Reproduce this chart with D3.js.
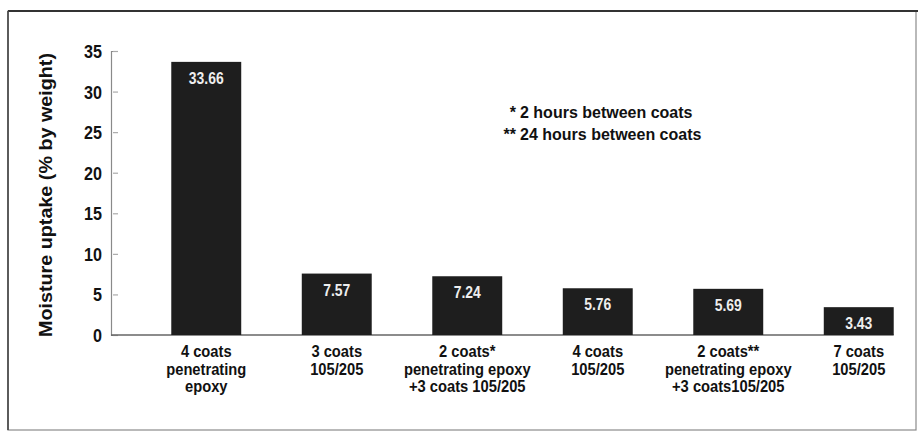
<!DOCTYPE html>
<html>
<head>
<meta charset="utf-8">
<script src="https://cdn.jsdelivr.net/npm/d3@7"></script>
<style>
  html, body { margin: 0; padding: 0; background: #fff; }
  svg { display: block; }
  text { font-family: "Liberation Sans", Arial, sans-serif; font-weight: bold; }
</style>
</head>
<body>
<svg id="chart" width="918" height="433"></svg>
<script>
// Moisture uptake of different coating systems
const categories = [
  ["4 coats", "penetrating", "epoxy"],
  ["3 coats", "105/205"],
  ["2 coats*", "penetrating epoxy", "+3 coats 105/205"],
  ["4 coats", "105/205"],
  ["2 coats**", "penetrating epoxy", "+3 coats105/205"],
  ["7 coats", "105/205"]
];
const uptake = [33.66, 7.57, 7.24, 5.76, 5.69, 3.43];
const valueLabels = ["33.66", "7.57", "7.24", "5.76", "5.69", "3.43"];
const yTicks = [0, 5, 10, 15, 20, 25, 30, 35];
const notes = [["*", "2 hours between coats"], ["**", "24 hours between coats"]];
const yTitle = "Moisture uptake (% by weight)";

const svg = d3.select("#chart");

// narrow type: glyphs squeezed horizontally around the anchor point
function place(sel, fx, fy, sx) {
  return sel.attr("x", 0).attr("y", 0)
    .attr("transform", (d, i) => `translate(${fx(d, i)},${fy(d, i)}) scale(${sx},1)`);
}

// outer frame
svg.append("rect")
  .attr("x", 8).attr("y", 11).attr("width", 908).attr("height", 419)
  .attr("fill", "none").attr("stroke", "#8a8a8a").attr("stroke-width", 1.2);
svg.append("line")
  .attr("x1", 8).attr("x2", 918).attr("y1", 11).attr("y2", 11)
  .attr("stroke", "#333").attr("stroke-width", 2);
svg.append("line")
  .attr("x1", 8).attr("x2", 8).attr("y1", 11).attr("y2", 430)
  .attr("stroke", "#444").attr("stroke-width", 1.6);

const ids = d3.range(categories.length);
const x = d3.scaleBand().domain(ids).range([141, 924])
  .paddingInner(0.464).paddingOuter(0.232);
const y = d3.scaleLinear().domain([0, 35]).range([335, 51]);

// y axis
const yAxis = d3.axisRight(y).tickValues(yTicks).tickSize(5).tickFormat("");
const gy = svg.append("g").attr("transform", "translate(111,0)").call(yAxis);
gy.select(".domain").attr("stroke", "#8a8a8a").attr("stroke-width", 1.2);
gy.selectAll(".tick line").attr("stroke", "#aaa").attr("stroke-width", 1.2)
  .attr("x1", 2).attr("x2", 7);

place(svg.append("g").selectAll("text").data(yTicks).join("text"),
      () => 102, d => y(d) + 7, 0.85)
  .attr("text-anchor", "end").attr("font-size", 19).attr("fill", "#111")
  .text(d => d);

svg.append("text")
  .attr("transform", "translate(52,195) rotate(-90)")
  .attr("text-anchor", "middle").attr("font-size", 18).attr("fill", "#111")
  .attr("textLength", 284).attr("lengthAdjust", "spacingAndGlyphs")
  .text(yTitle);

// baseline
svg.append("line")
  .attr("x1", 111).attr("x2", x(5) + x.bandwidth())
  .attr("y1", y(0)).attr("y2", y(0))
  .attr("stroke", "#666").attr("stroke-width", 1.5);

// bars
svg.append("g").selectAll("rect").data(uptake).join("rect")
  .attr("x", (d, i) => x(i)).attr("width", x.bandwidth())
  .attr("y", d => y(d)).attr("height", d => y(0) - y(d))
  .attr("fill", "#1e1e1e");

// value labels inside bars
place(svg.append("g").selectAll("text").data(uptake).join("text"),
      (d, i) => x(i) + x.bandwidth() / 2, d => y(d) + 22, 0.82)
  .attr("text-anchor", "middle").attr("font-size", 17).attr("fill", "#eee")
  .attr("font-weight", "normal")
  .text((d, i) => valueLabels[i]);

// category labels, one text per line
const lines = categories.flatMap((c, i) => c.map((t, k) => ({ i, k, t })));
place(svg.append("g").selectAll("text").data(lines).join("text"),
      d => x(d.i) + x.bandwidth() / 2, d => 357 + d.k * 17.5, 0.92)
  .attr("text-anchor", "middle").attr("font-size", 16).attr("fill", "#111")
  .text(d => d.t);

// footnotes
const nt = svg.append("g");
notes.forEach((n, i) => {
  nt.append("text").attr("x", 516).attr("y", 118 + i * 22)
    .attr("text-anchor", "end").attr("font-size", 16).attr("fill", "#111").text(n[0]);
  nt.append("text").attr("x", 520).attr("y", 118 + i * 22)
    .attr("font-size", 16).attr("fill", "#111").text(n[1]);
});
</script>
</body>
</html>
